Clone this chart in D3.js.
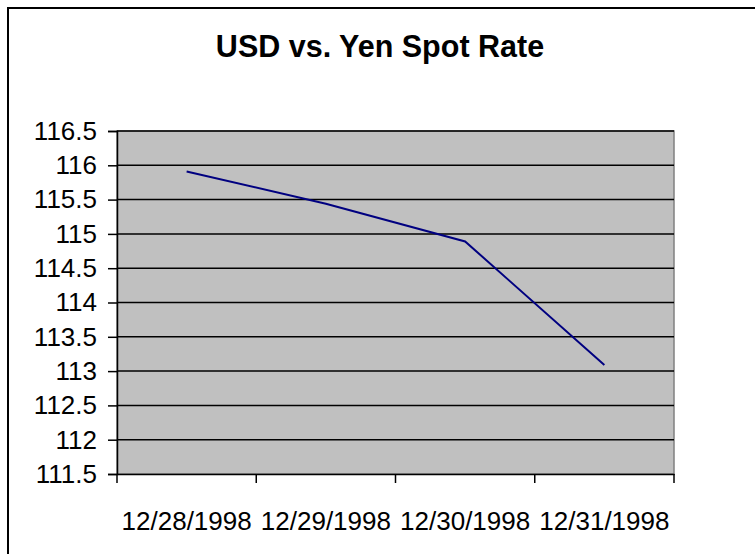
<!DOCTYPE html>
<html>
<head>
<meta charset="utf-8">
<script src="https://cdn.jsdelivr.net/npm/d3@7"></script>
<style>
  body { margin: 0; background: #fff; }
  svg { display: block; font-family: Arial, "Liberation Sans", sans-serif; }
</style>
</head>
<body>
<div id="chart"></div>
<script>
var width = 755,
    height = 554,
    margin = {top: 131, bottom: 80, left: 117, right: 81};

var dates = ["12/28/1998", "12/29/1998", "12/30/1998", "12/31/1998"];
var rates = [115.91, 115.44, 114.89, 113.09];
var yTicks = [111.5, 112, 112.5, 113, 113.5, 114, 114.5, 115, 115.5, 116, 116.5];

var svg = d3.select("#chart").append("svg")
  .attr("width", width)
  .attr("height", height);

// chart frame (right and bottom edges fall outside the picture)
svg.append("rect")
  .attr("x", 8).attr("y", 8)
  .attr("width", 760).attr("height", 560)
  .style("fill", "#fff")
  .style("stroke", "#000")
  .style("stroke-width", 2);

svg.append("text")
  .attr("x", 380).attr("y", 57)
  .attr("text-anchor", "middle")
  .style("font-size", "30.5px")
  .style("font-weight", "bold")
  .text("USD vs. Yen Spot Rate");

var x = d3.scaleBand()
  .domain(dates)
  .range([margin.left, width - margin.right]);

var y = d3.scaleLinear()
  .domain([111.5, 116.5])
  .range([height - margin.bottom, margin.top]);

// plot area
svg.append("rect")
  .attr("x", x.range()[0]).attr("y", y(116.5))
  .attr("width", x.range()[1] - x.range()[0])
  .attr("height", y(111.5) - y(116.5))
  .style("fill", "#c0c0c0")
  .style("stroke", "#808080")
  .style("stroke-width", 1.5);

// gridlines
svg.append("g").selectAll("line")
  .data(yTicks.slice(1))
  .enter().append("line")
  .attr("x1", x.range()[0]).attr("x2", x.range()[1])
  .attr("y1", function(d){ return y(d); })
  .attr("y2", function(d){ return y(d); })
  .style("stroke", "#000")
  .style("stroke-width", 1.5);

var yAxis = svg.append("g")
  .attr("transform", "translate(" + x.range()[0] + ",0)")
  .call(d3.axisLeft(y).tickValues(yTicks).tickSize(9).tickPadding(11)
    .tickFormat(function(d){ return d; }));

// category boundary ticks on x axis
var xAxis = svg.append("g")
  .attr("transform", "translate(0," + y(111.5) + ")")
  .call(d3.axisBottom(x).tickSize(0).tickPadding(38));

xAxis.append("g").selectAll("line")
  .data(d3.range(dates.length + 1))
  .enter().append("line")
  .attr("x1", function(i){ return x.range()[0] + i * x.step(); })
  .attr("x2", function(i){ return x.range()[0] + i * x.step(); })
  .attr("y1", 0).attr("y2", 9)
  .style("stroke", "#000")
  .style("stroke-width", 1.5);

svg.selectAll(".domain").style("stroke", "#000").style("stroke-width", 1.5);
svg.selectAll(".tick line").style("stroke", "#000").style("stroke-width", 1.5);
svg.selectAll(".tick text")
  .style("font-size", "26px")
  .style("fill", "#000")
  .style("font-family", "Arial, 'Liberation Sans', sans-serif");

var line = d3.line()
  .x(function(d, i){ return x(dates[i]) + x.bandwidth() / 2; })
  .y(function(d){ return y(d); });

svg.append("path")
  .datum(rates)
  .attr("d", line)
  .style("fill", "none")
  .style("stroke", "#000080")
  .style("stroke-width", 2);
</script>
</body>
</html>
